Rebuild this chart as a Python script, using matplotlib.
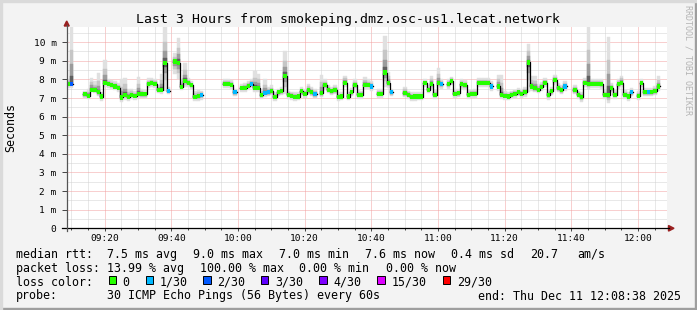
import numpy as np
import pandas as pd
import matplotlib
matplotlib.use("Agg")
import matplotlib.pyplot as plt
import matplotlib.dates as mdates
from matplotlib.patches import Rectangle, Polygon
from matplotlib.lines import Line2D

nan = np.nan

# one probe round per minute, 3 hours ending 12:08:38
start = "2025-12-11 09:08:38"
n_steps = 180

# median rtt per round (ms), nan = no reply
median_ms = [
    7.75, 7.75, nan, nan, nan, 7.20, 7.12, 7.45, 7.43, 7.30,
    7.08, 7.80, 7.75, 7.68, 7.62, 7.55, 7.03, 7.18, 7.05, 7.18,
    7.10, 7.22, 7.20, 7.20, 7.77, 7.80, 7.77, 7.43, 7.45, 8.87,
    7.36, nan, 8.96, 8.88, 7.60, 7.90, 7.80, 7.68, 7.05, 7.12,
    7.15, nan, nan, nan, nan, nan, nan, 7.75, 7.75, 7.72,
    7.30, nan, 7.53, 7.55, 7.65, 7.75, 7.55, 7.55, 7.15, 7.28,
    7.30, 7.36, 7.05, 7.30, 7.36, 8.20, 7.17, 7.12, 7.05, 7.08,
    7.36, 7.22, 7.43, 7.30, 7.20, nan, 7.25, 7.68, 7.45, 7.36,
    7.43, 7.05, 7.08, 7.83, 7.08, 7.30, 7.68, 7.17, 7.17, 7.70,
    7.70, 7.62, nan, 7.22, 7.22, 8.37, 7.80, 7.30, nan, nan,
    nan, 7.25, 7.17, 7.05, 7.08, 7.08, 7.08, 7.80, 7.45, 7.73,
    7.17, 7.80, 7.73, nan, 7.73, 7.90, 7.22, 7.25, 7.73, 7.68,
    7.17, 7.22, 7.22, 7.83, 7.83, 7.83, 7.80, 7.62, nan, 7.62,
    7.17, 7.12, 7.08, 7.17, 7.22, 7.30, 7.22, 7.30, 8.91, 7.62,
    7.53, 7.45, 7.60, 7.83, 7.17, 7.36, 7.95, 7.53, 7.43, 7.62,
    nan, nan, 7.43, 7.17, 7.05, 7.83, 7.73, 7.77, 7.77, 7.77,
    7.73, 7.17, 7.17, 7.53, 7.17, 7.73, 7.83, 7.17, 7.08, 7.30,
    nan, 7.12, 7.80, 7.30, 7.30, 7.30, 7.36, 7.62, nan, nan,
]

# slowest ping per round (top of the smoke)
smoke_hi = [
    8.00, 10.80, nan, nan, nan, 7.40, 7.50, 8.10, 7.90, 8.35,
    7.30, 9.05, 8.00, 7.95, 7.90, 7.80, 8.00, 8.10, 7.50, 7.50,
    7.40, 8.15, 7.50, 7.45, 8.05, 8.10, 8.00, 7.70, 8.30, 10.80,
    7.60, nan, 9.40, 10.20, 8.00, 8.90, 8.10, 7.90, 7.40, 7.45,
    7.40, nan, nan, nan, nan, nan, nan, 8.00, 8.00, 7.95,
    7.50, nan, 7.75, 7.80, 7.90, 8.00, 8.45, 8.30, 7.40, 8.00,
    7.60, 7.70, 7.30, 7.50, 7.60, 9.50, 7.40, 7.35, 7.30, 7.30,
    7.60, 7.50, 7.75, 7.60, 7.50, nan, 8.25, 8.00, 7.70, 7.60,
    7.70, 7.30, 7.30, 8.20, 7.35, 7.55, 8.00, 7.45, 7.40, 8.15,
    8.00, 7.90, nan, 7.50, 7.50, 10.35, 8.40, 7.50, nan, nan,
    nan, 7.60, 7.40, 7.30, 7.30, 7.30, 7.35, 8.00, 7.70, 8.20,
    7.45, 8.60, 8.00, nan, 8.00, 8.15, 7.50, 7.50, 8.00, 7.95,
    7.45, 7.45, 7.50, 8.10, 8.10, 8.05, 8.05, 7.90, nan, 8.25,
    8.25, 7.40, 7.35, 7.40, 7.45, 7.55, 7.50, 7.60, 9.90, 8.20,
    8.20, 7.75, 7.85, 8.10, 7.45, 7.60, 8.25, 7.80, 7.70, 7.90,
    nan, nan, 7.70, 7.40, 7.30, 8.10, 10.80, 8.00, 8.00, 8.00,
    8.00, 7.45, 10.30, 7.80, 7.45, 8.00, 8.20, 7.45, 7.35, 7.55,
    nan, 7.40, 8.00, 7.55, 7.55, 7.55, 7.65, 8.20, nan, nan,
]

# fastest ping per round (bottom of the smoke)
smoke_lo = [
    7.55, 7.55, nan, nan, nan, 7.00, 6.95, 7.30, 7.25, 7.10,
    6.85, 7.60, 7.55, 7.50, 7.45, 7.35, 6.80, 6.90, 6.85, 6.95,
    6.90, 7.00, 7.00, 7.00, 7.55, 7.60, 7.55, 7.25, 7.20, 7.40,
    7.20, nan, 8.30, 8.00, 7.45, 7.60, 7.60, 7.50, 6.85, 6.85,
    6.90, nan, nan, nan, nan, nan, nan, 7.55, 7.55, 7.50,
    7.10, nan, 7.35, 7.35, 7.45, 7.55, 7.35, 7.35, 6.95, 7.05,
    7.10, 7.15, 6.85, 7.10, 7.15, 7.20, 6.95, 6.90, 6.85, 6.90,
    7.15, 7.00, 7.20, 7.10, 7.00, nan, 7.05, 7.45, 7.25, 7.15,
    7.20, 6.85, 6.90, 7.60, 6.90, 7.10, 7.45, 6.95, 6.95, 7.50,
    7.50, 7.40, nan, 7.00, 7.00, 7.60, 7.55, 7.10, nan, nan,
    nan, 7.05, 6.95, 6.85, 6.85, 6.90, 6.90, 7.60, 7.25, 7.50,
    6.95, 7.55, 7.50, nan, 7.50, 7.70, 7.00, 7.05, 7.50, 7.45,
    6.95, 7.00, 7.00, 7.60, 7.60, 7.60, 7.60, 7.40, nan, 7.40,
    6.95, 6.90, 6.90, 6.95, 7.00, 7.10, 7.00, 7.05, 7.30, 7.40,
    7.30, 7.25, 7.40, 7.60, 6.90, 7.15, 7.70, 7.30, 7.20, 7.40,
    nan, nan, 7.20, 6.95, 6.80, 7.60, 7.50, 7.55, 7.55, 7.55,
    7.50, 6.95, 6.75, 7.30, 6.95, 7.50, 7.60, 6.95, 6.85, 7.10,
    nan, 6.90, 7.60, 7.10, 7.10, 7.10, 7.15, 7.40, nan, nan,
]

# lost pings out of 30 per round
loss = [
    0, 2, 30, 30, 30, 0, 0, 0, 0, 0,
    0, 0, 0, 0, 0, 0, 0, 0, 0, 0,
    0, 0, 0, 0, 0, 0, 0, 0, 0, 0,
    1, 30, 0, 0, 0, 0, 0, 0, 0, 0,
    1, 30, 30, 30, 30, 30, 30, 0, 0, 0,
    1, 30, 0, 0, 0, 1, 0, 0, 0, 1,
    1, 0, 0, 0, 0, 0, 0, 0, 0, 0,
    0, 0, 0, 0, 1, 30, 0, 0, 0, 0,
    0, 0, 0, 0, 0, 0, 0, 0, 0, 0,
    0, 1, 30, 0, 0, 0, 0, 1, 30, 30,
    30, 0, 0, 0, 0, 0, 0, 0, 0, 0,
    0, 0, 1, 30, 0, 0, 0, 0, 0, 0,
    0, 0, 0, 0, 0, 0, 0, 1, 30, 0,
    0, 0, 0, 0, 0, 0, 0, 0, 0, 0,
    0, 0, 0, 0, 0, 0, 0, 0, 0, 1,
    30, 30, 0, 0, 0, 0, 0, 0, 0, 0,
    0, 0, 0, 0, 0, 0, 0, 0, 0, 1,
    30, 0, 0, 0, 1, 0, 0, 0, 30, 30,
]

y_ticks = [0, 1, 2, 3, 4, 5, 6, 7, 8, 9, 10]
y_labels = ["0", "1 m", "2 m", "3 m", "4 m", "5 m", "6 m", "7 m", "8 m", "9 m", "10 m"]

loss_steps = [0, 1, 2, 3, 4, 15, 29]
loss_names = ["0", "1/30", "2/30", "3/30", "4/30", "15/30", "29/30"]
loss_colors = ["#26ff00", "#00b8ff", "#0059ff", "#5e00ff", "#7e00ff", "#dd00ff", "#ff0000"]

title = "Last 3 Hours from smokeping.dmz.osc-us1.lecat.network"
rtt_stats = ["7.5 ms avg", "9.0 ms max", "7.0 ms min", "7.6 ms now", "0.4 ms sd", "20.7", "am/s"]
loss_stats = ["13.99 % avg", "100.00 % max", "0.00 % min", "0.00 % now"]
probe_text = "30 ICMP Echo Pings (56 Bytes) every 60s"
end_text = "end: Thu Dec 11 12:08:38 2025"

MONO = "DejaVu Sans Mono"
W, H = 697, 310


def fx(px):
    return px / W


def fy(py):
    return 1 - py / H


def loss_color(n):
    col = loss_colors[0]
    for step, c in zip(loss_steps, loss_colors):
        if n >= step:
            col = c
    return col


med = np.array(median_ms)
hi = np.array(smoke_hi)
lo = np.array(smoke_lo)
times = pd.date_range(start, periods=n_steps + 1, freq="60s")
x_edges = mdates.date2num(times.to_pydatetime())
x = x_edges[:-1]
step_w = x_edges[1] - x_edges[0]
ok = ~np.isnan(med)

fig = plt.figure(figsize=(W / 100, H / 100), dpi=100, facecolor="#f3f3f3")
ax = fig.add_axes([fx(66.7), fy(228.3), 600 / W, (228.3 - 27.3) / H])
ax.set_facecolor("white")

# smoke: darker the closer to the median
for frac, col in [(1.0, "#e0e0e0"), (0.6, "#c6c6c6"), (0.35, "#9c9c9c"), (0.15, "#606060")]:
    top = med + (hi - med) * frac
    bot = med - (med - lo) * frac
    ax.bar(x[ok], (top - bot)[ok], bottom=bot[ok], width=step_w, align="edge",
           color=col, edgecolor=col, linewidth=0.3, zorder=2)

# median line
ax.step(x_edges, np.append(med, nan), where="post", color="black", lw=0.9, zorder=3)

# loss coloured median marks
cols = [loss_color(n) for n in np.array(loss)[ok]]
ax.bar(x[ok], 0.22, bottom=med[ok] - 0.11, width=step_w, align="edge",
       color=cols, linewidth=0, zorder=4)

ax.set_xlim(x_edges[0], x_edges[-1])
ax.set_ylim(0, 10.8)

ax.xaxis.set_major_locator(mdates.MinuteLocator(byminute=[0, 20, 40]))
ax.xaxis.set_minor_locator(mdates.MinuteLocator(byminute=range(0, 60, 5)))
ax.xaxis.set_major_formatter(mdates.DateFormatter("%H:%M"))
ax.set_yticks(y_ticks)
ax.set_yticklabels(y_labels)
ax.set_yticks(np.arange(0.5, 10.8, 1.0), minor=True)

dot = (0, (1, 1))
ax.grid(which="minor", color="#d2d2d2", linestyle=dot, linewidth=0.72)
ax.grid(which="major", color="#f2a0a0", linestyle=dot, linewidth=0.72)
ax.set_axisbelow(True)

for s in ax.spines.values():
    s.set_visible(False)

ax.tick_params(axis="y", which="major", direction="out", length=3.5, width=0.7,
               color="#444444", pad=3.8, labelsize=6.8)
ax.tick_params(axis="y", which="minor", length=0)
ax.tick_params(axis="x", which="major", direction="out", length=2.5, width=0.7,
               color="#444444", pad=1.6, labelsize=6.8)
ax.tick_params(axis="x", which="minor", direction="out", length=1.5, width=0.7,
               color="#444444")
for lab in ax.get_xticklabels() + ax.get_yticklabels():
    lab.set_family(MONO)

# axis lines with arrows
fig.add_artist(Line2D([fx(62), fx(669)], [fy(228.3), fy(228.3)], color="black",
                      lw=0.9, transform=fig.transFigure))
fig.add_artist(Line2D([fx(66.7), fx(66.7)], [fy(231), fy(25)], color="#555555",
                      lw=0.9, transform=fig.transFigure))
fig.add_artist(Polygon([[fx(64.2), fy(26)], [fx(69.2), fy(26)], [fx(66.7), fy(21)]],
                       closed=True, color="#9a2020", transform=fig.transFigure))
fig.add_artist(Polygon([[fx(668.5), fy(225.5)], [fx(668.5), fy(231.1)], [fx(674), fy(228.3)]],
                       closed=True, color="#9a2020", transform=fig.transFigure))

# frame
fig.add_artist(Rectangle((0, 0), 1, fy(308), color="#9e9e9e", transform=fig.transFigure))
fig.add_artist(Rectangle((fx(695), 0), fx(2), 1, color="#9e9e9e", transform=fig.transFigure))
fig.add_artist(Rectangle((0, fy(2)), 1, fx(0) + 2 / H, color="#dadada", transform=fig.transFigure))
fig.add_artist(Rectangle((0, 0), fx(2), 1, color="#dadada", transform=fig.transFigure))

fig.text(fx(347.7), fy(19), title, ha="center", va="center", fontsize=9.55, family=MONO)
fig.text(fx(10.5), fy(127.5), "Seconds", ha="center", va="center", rotation=90,
         fontsize=8.4, family=MONO)
fig.text(fx(688), fy(60), "RRDTOOL / TOBI OETIKER", ha="center", va="center",
         rotation=270, fontsize=6, family=MONO, color="#b4b4b4")

# legend block
leg_fs = 8.37
rows_y = [254.3, 268.3, 282.3, 296]
heads = ["median rtt:", "packet loss:", "loss color:", "probe:"]
for head, yy in zip(heads, rows_y):
    fig.text(fx(15.5), fy(yy), head, ha="left", va="center", fontsize=leg_fs, family=MONO)

for txt, px in zip(rtt_stats, [106.6, 192.6, 279.3, 365.3, 451, 530, 577.6]):
    fig.text(fx(px), fy(rows_y[0]), txt, ha="left", va="center", fontsize=leg_fs, family=MONO)
for txt, px in zip(loss_stats, [106.6, 200, 299.3, 386]):
    fig.text(fx(px), fy(rows_y[1]), txt, ha="left", va="center", fontsize=leg_fs, family=MONO)

sw_x = [108.7, 146, 203.3, 261, 319.3, 377.3, 442.7]
for name, col, px in zip(loss_names, loss_colors, sw_x):
    fig.add_artist(Rectangle((fx(px), fy(284)), 7.3 / W, 8 / H, facecolor=col,
                             edgecolor="black", linewidth=0.7, transform=fig.transFigure))
    fig.text(fx(px + 14), fy(rows_y[2]), name, ha="left", va="center", fontsize=leg_fs, family=MONO)

fig.text(fx(106.6), fy(rows_y[3]), probe_text, ha="left", va="center", fontsize=leg_fs, family=MONO)
fig.text(fx(477.6), fy(rows_y[3]), end_text, ha="left", va="center", fontsize=leg_fs, family=MONO)

fig.savefig("out.png", dpi=100, facecolor=fig.get_facecolor())
